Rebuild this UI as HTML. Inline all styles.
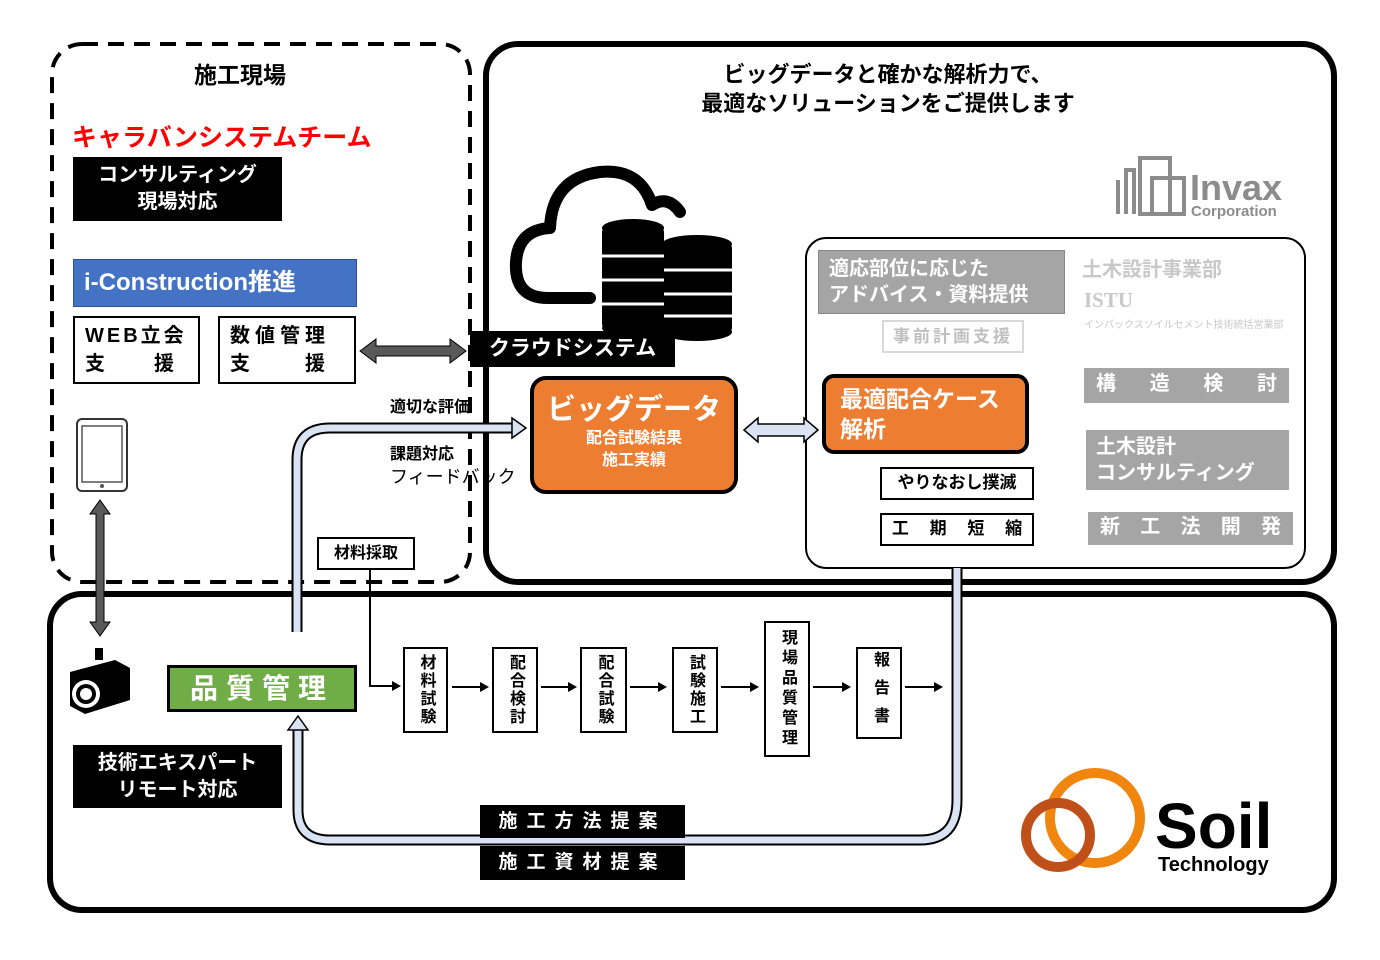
<!DOCTYPE html>
<html><head><meta charset="utf-8">
<style>
body{margin:0;width:1380px;height:960px;background:#fff;position:relative;overflow:hidden;font-family:"Liberation Sans","Noto Sans CJK JP",sans-serif;font-weight:bold}
.a{position:absolute;box-sizing:border-box}
.bk{background:#000;color:#fff;text-align:center}
.gr{background:#a5a5a5;color:#fff}
.bx{border:2px solid #000;background:#fff;color:#000}
.v{writing-mode:vertical-rl;text-orientation:upright;display:flex;align-items:center;justify-content:center;font-size:16px;letter-spacing:2px}
</style></head><body>
<svg class="a" style="left:0;top:0" width="1380" height="960">
<rect x="52" y="44" width="418" height="538" rx="30" fill="none" stroke="#000" stroke-width="4" stroke-dasharray="16,10"/>
<rect x="486" y="44" width="848" height="538" rx="32" fill="none" stroke="#000" stroke-width="6"/>
<rect x="50" y="594" width="1284" height="316" rx="32" fill="none" stroke="#000" stroke-width="6"/>
<rect x="806" y="238" width="499" height="330" rx="20" fill="#fff" stroke="#000" stroke-width="2"/>
<path d="M297 632 V460 Q297 428 330 428 H515" fill="none" stroke="#000" stroke-width="11"/>
<path d="M297 632 V460 Q297 428 330 428 H515" fill="none" stroke="#dae3f3" stroke-width="7"/>
<polygon points="512,418 526,428 512,438" fill="#dae3f3" stroke="#000" stroke-width="1.5"/>
<path d="M957 568 V800 Q957 840 920 840 H330 Q298 840 298 810 V728" fill="none" stroke="#000" stroke-width="11"/>
<path d="M957 568 V800 Q957 840 920 840 H330 Q298 840 298 810 V728" fill="none" stroke="#dae3f3" stroke-width="7"/>
<polygon points="288,730 298,716 308,730" fill="#dae3f3" stroke="#000" stroke-width="1.5"/>
<polygon points="744,430 758,418 758,424 804,424 804,418 818,430 804,442 804,436 758,436 758,442" fill="#dae3f3" stroke="#000" stroke-width="1.5"/>
<polygon points="360,351 376,339 376,346 450,346 450,339 466,351 450,363 450,356 376,356 376,363" fill="#595959" stroke="#000" stroke-width="1"/>
<polygon points="100,500 110,514 104,514 104,622 110,622 100,636 90,622 96,622 96,514 90,514" fill="#595959" stroke="#000" stroke-width="1"/>
<path d="M370 570 V686 H392" fill="none" stroke="#000" stroke-width="2"/>
<polygon points="392,681 401,686 392,691"/>
<g stroke="#000" stroke-width="2">
<line x1="452" y1="687" x2="480" y2="687"/><line x1="541" y1="687" x2="568" y2="687"/>
<line x1="630" y1="687" x2="658" y2="687"/><line x1="721" y1="687" x2="750" y2="687"/>
<line x1="813" y1="687" x2="842" y2="687"/><line x1="905" y1="687" x2="934" y2="687"/></g>
<g><polygon points="480,682 489,687 480,692"/><polygon points="568,682 577,687 568,692"/><polygon points="658,682 667,687 658,692"/><polygon points="750,682 759,687 750,692"/><polygon points="842,682 851,687 842,692"/><polygon points="934,682 943,687 934,692"/></g>
<rect x="77" y="419" width="50" height="72" rx="5" fill="#fff" stroke="#333" stroke-width="2"/>
<rect x="82" y="426" width="40" height="56" fill="#fff" stroke="#555" stroke-width="1.5"/>
<circle cx="102" cy="486" r="2" fill="#555"/>
<rect x="95" y="648" width="8" height="12" fill="#000"/>
<polygon points="70,672 115,660 130,668 130,700 85,714 70,706" fill="#000"/>
<circle cx="86" cy="694" r="14" fill="#fff"/><circle cx="86" cy="694" r="10" fill="#000"/><circle cx="86" cy="694" r="6" fill="#fff"/>
<path d="M590 298 H548 Q514 298 516 262 Q518 230 550 228 Q552 178 600 172 Q640 168 652 205 Q668 195 680 212" fill="none" stroke="#000" stroke-width="12" stroke-linecap="round" stroke-linejoin="round"/>
<g fill="#000">
<rect x="602" y="228" width="62" height="100" rx="4"/>
<ellipse cx="633" cy="228" rx="31" ry="9"/><ellipse cx="633" cy="328" rx="31" ry="9"/>
<rect x="662" y="244" width="70" height="88" rx="4"/>
<ellipse cx="697" cy="244" rx="35" ry="9"/><ellipse cx="697" cy="332" rx="35" ry="9"/>
</g>
<g stroke="#fff" stroke-width="3"><line x1="602" y1="256" x2="664" y2="256"/><line x1="602" y1="280" x2="664" y2="280"/><line x1="602" y1="304" x2="664" y2="304"/><line x1="664" y1="270" x2="732" y2="270"/><line x1="664" y1="294" x2="732" y2="294"/><line x1="664" y1="316" x2="732" y2="316"/></g>
<g fill="none" stroke="#8c8c8c" stroke-width="4">
<path d="M1118 214 V180 M1126 214 V170 H1134 V214"/><rect x="1140" y="158" width="30" height="56"/><rect x="1152" y="178" width="32" height="36"/></g>
<text x="1190" y="200" font-size="36" fill="#8c8c8c" font-family="Liberation Sans" font-weight="bold">Invax</text>
<text x="1191" y="216" font-size="15" fill="#8c8c8c" font-family="Liberation Sans" font-weight="bold">Corporation</text>
<circle cx="1095" cy="818" r="45" fill="none" stroke="#f0860d" stroke-width="10"/>
<circle cx="1058" cy="835" r="32" fill="none" stroke="#c0501a" stroke-width="10"/>
<text x="1155" y="848" font-size="64" font-family="Liberation Sans" font-weight="bold">Soil</text>
<text x="1158" y="871" font-size="20" font-family="Liberation Sans" font-weight="bold">Technology</text>
</svg>

<div class="a" style="left:150px;top:56px;width:180px;text-align:center;font-size:23px">施工現場</div>
<div class="a" style="left:72px;top:118px;font-size:25px;color:#ff0000">キャラバンシステムチーム</div>
<div class="a bk" style="left:73px;top:157px;width:209px;height:64px;font-size:20px;line-height:27px;padding-top:5px">コンサルティング<br>現場対応</div>
<div class="a" style="left:73px;top:259px;width:284px;height:48px;background:#4472c4;color:#fff;font-size:24px;line-height:46px;padding-left:10px;border:1px solid #2f528f">i-Construction推進</div>
<div class="a bx" style="left:73px;top:316px;width:127px;height:68px;font-size:20px;line-height:28px;padding:4px 10px;letter-spacing:3px">WEB立会<br>支　　援</div>
<div class="a bx" style="left:218px;top:316px;width:138px;height:68px;font-size:20px;line-height:28px;padding:4px 10px;letter-spacing:5px">数値管理<br>支　　援</div>
<div class="a bk" style="left:470px;top:331px;width:205px;height:36px;font-size:21px;line-height:36px">クラウドシステム</div>
<div class="a" style="left:390px;top:393px;font-size:16px">適切な評価</div>
<div class="a" style="left:390px;top:443px;font-size:16px;line-height:23px">課題対応<br><span style="font-weight:normal;font-size:18px">フィードバック</span></div>
<div class="a" style="left:530px;top:376px;width:208px;height:118px;background:#ed7d31;border:4px solid #000;border-radius:16px;color:#fff;text-align:center"><div style="font-size:29px;margin-top:6px">ビッグデータ</div><div style="font-size:16px;line-height:22px">配合試験結果<br>施工実績</div></div>
<div class="a" style="left:588px;top:60px;width:600px;text-align:center;font-size:22px;line-height:29px">ビッグデータと確かな解析力で、<br>最適なソリューションをご提供します</div>
<div class="a gr" style="left:818px;top:250px;width:247px;height:64px;font-size:20px;line-height:26px;padding:5px 10px;border:1px solid #888">適応部位に応じた<br>アドバイス・資料提供</div>
<div class="a" style="left:1082px;top:253px;font-size:20px;color:#c8c8c8">土木設計事業部</div>
<div class="a" style="left:1084px;top:288px;font-size:21px;color:#c8c8c8;font-family:'Liberation Serif',serif">ISTU</div>
<div class="a" style="left:1084px;top:316px;font-size:10px;color:#c8c8c8;font-weight:normal">インバックスソイルセメント技術統括営業部</div>
<div class="a" style="left:882px;top:320px;width:142px;height:33px;border:2px solid #d9d9d9;color:#bfbfbf;font-size:17px;text-align:center;line-height:29px;letter-spacing:3px">事前計画支援</div>
<div class="a" style="left:822px;top:374px;width:207px;height:80px;background:#ed7d31;border:4px solid #000;border-radius:12px;color:#fff;font-size:23px;line-height:30px;padding:6px 14px">最適配合ケース<br>解析</div>
<div class="a bx" style="left:880px;top:467px;width:154px;height:33px;font-size:17px;line-height:28px;text-align:center">やりなおし撲滅</div>
<div class="a bx" style="left:880px;top:513px;width:154px;height:33px;font-size:17px;line-height:28px;text-align:center;word-spacing:16px">工 期 短 縮</div>
<div class="a gr" style="left:1084px;top:368px;width:205px;height:35px;font-size:20px;line-height:33px;display:flex;justify-content:space-between;padding:0 12px"><span>構</span><span>造</span><span>検</span><span>討</span></div>
<div class="a gr" style="left:1086px;top:430px;width:203px;height:60px;font-size:20px;line-height:26px;padding:4px 10px">土木設計<br>コンサルティング</div>
<div class="a gr" style="left:1088px;top:512px;width:205px;height:33px;font-size:20px;line-height:31px;display:flex;justify-content:space-between;padding:0 12px"><span>新</span><span>工</span><span>法</span><span>開</span><span>発</span></div>
<div class="a bx" style="left:317px;top:537px;width:98px;height:33px;font-size:16px;line-height:29px;text-align:center">材料採取</div>
<div class="a" style="left:167px;top:665px;width:190px;height:47px;background:#70ad47;border:3px solid #000;color:#fff;font-size:28px;line-height:41px;text-align:center;letter-spacing:8px">品質管理</div>
<div class="a bk" style="left:73px;top:745px;width:209px;height:63px;font-size:20px;line-height:27px;padding-top:5px">技術エキスパート<br>リモート対応</div>
<div class="a bx v" style="left:403px;top:647px;width:45px;height:86px">材料試験</div>
<div class="a bx v" style="left:492px;top:647px;width:46px;height:86px">配合検討</div>
<div class="a bx v" style="left:580px;top:647px;width:47px;height:86px">配合試験</div>
<div class="a bx v" style="left:672px;top:647px;width:46px;height:86px">試験施工</div>
<div class="a bx v" style="left:764px;top:621px;width:46px;height:136px;letter-spacing:4px">現場品質管理</div>
<div class="a bx v" style="left:856px;top:647px;width:46px;height:92px;letter-spacing:12px">報告書</div>
<div class="a bk" style="left:480px;top:805px;width:205px;height:33px;font-size:19px;line-height:33px;letter-spacing:9px">施工方法提案</div>
<div class="a bk" style="left:480px;top:846px;width:205px;height:34px;font-size:19px;line-height:34px;letter-spacing:9px">施工資材提案</div>
</body></html>
